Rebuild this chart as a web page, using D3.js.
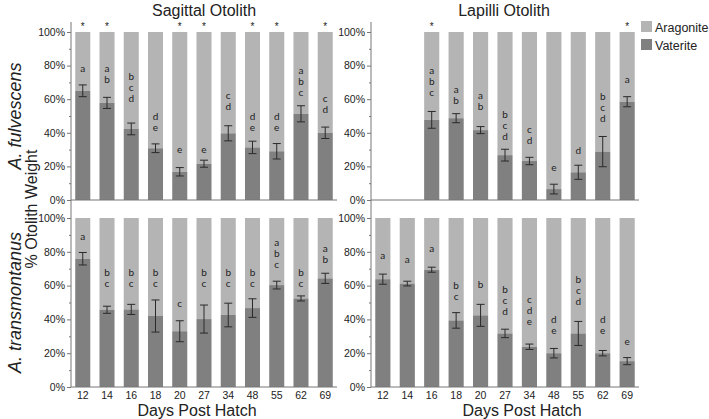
<!DOCTYPE html>
<html>
<head>
<meta charset="utf-8">
<script src="https://cdn.jsdelivr.net/npm/d3@7"></script>
<style>
  html, body { margin: 0; padding: 0; background: #fff; }
  svg { display: block; font-family: 'Liberation Sans', Arial, sans-serif; }
</style>
</head>
<body>
<svg id="chart" width="709" height="419"></svg>
<script>
/* ── Data ── */
const days = ['12', '14', '16', '18', '20', '27', '34', '48', '55', '62', '69'];
const yTicks = [0, 20, 40, 60, 80, 100];

// Sagittal, A. fulvescens — % vaterite
const sagFulv       = [65.0, 57.8, 42.3, 30.8, 16.8, 21.6, 39.7, 31.3, 29.0, 51.3, 40.0];
const sagFulvErr    = [3.5, 3.3, 3.5, 2.6, 2.5, 2.1, 4.5, 3.7, 4.6, 4.8, 3.4];
const sagFulvGrp    = ['a', 'ab', 'bcd', 'de', 'e', 'e', 'cd', 'de', 'de', 'abc', 'cd'];
const sagFulvGrpAt  = [78.5, 78.4, 73.6, 50, 30, 30, 62, 50, 50, 76.8, 60.3];
const sagFulvStar   = [1, 1, 0, 0, 1, 1, 0, 1, 1, 0, 1];

// Lapilli, A. fulvescens
const lapFulv       = [null, null, 47.7, 48.7, 41.6, 26.7, 23.2, 6.5, 16.5, 28.8, 58.5];
const lapFulvErr    = [0, 0, 5.0, 2.7, 2.1, 3.5, 2.2, 2.9, 4.2, 9.0, 3.0];
const lapFulvGrp    = ['', '', 'abc', 'ab', 'ab', 'bcd', 'cd', 'e', 'd', 'bcd', 'a'];
const lapFulvGrpAt  = [0, 0, 76.8, 65.9, 62, 50.6, 41.7, 19.2, 29.3, 61.5, 72];
const lapFulvStar   = [0, 0, 1, 0, 0, 0, 0, 0, 0, 0, 1];

// Sagittal, A. transmontanus
const sagTrans      = [75.9, 45.7, 45.9, 42.0, 33.0, 40.2, 42.6, 46.7, 60.3, 52.4, 64.3];
const sagTransErr   = [3.7, 2.1, 3.0, 9.5, 6.2, 8.3, 7.0, 5.5, 2.3, 1.5, 3.0];
const sagTransGrp   = ['a', 'bc', 'bc', 'bc', 'c', 'bc', 'bc', 'bc', 'abc', 'bc', 'ab'];
const sagTransGrpAt = [89, 67.7, 67.7, 67.7, 49.5, 67.7, 67.7, 67.7, 85.7, 67.7, 82];
const sagTransStar  = [0, 0, 0, 0, 0, 0, 0, 0, 0, 0, 0];

// Lapilli, A. transmontanus
const lapTrans      = [63.8, 61.2, 69.4, 39.4, 42.4, 31.7, 23.8, 20.0, 31.7, 20.0, 15.3];
const lapTransErr   = [3.0, 1.4, 1.5, 4.6, 6.5, 2.5, 1.6, 2.8, 7.1, 1.6, 2.1];
const lapTransGrp   = ['a', 'a', 'a', 'bc', 'b', 'bcd', 'cde', 'de', 'bcd', 'de', 'e'];
const lapTransGrpAt = [77.8, 75.6, 82, 60.2, 60.6, 57.4, 51.9, 40.2, 63.6, 40.2, 26.9];
const lapTransStar  = [0, 0, 0, 0, 0, 0, 0, 0, 0, 0, 0];

const legendItems = ['Aragonite', 'Vaterite'];

/* ── Styles ── */
const CLR_ARAG = '#b4b4b4';
const CLR_VAT  = '#808080';
const CLR_AXIS = '#777';
const CLR_TEXT = '#222';

const svg = d3.select('#chart');

/* ── Layout ── */
const cols = [{ x0: 71, x1: 337 }, { x0: 371, x1: 639 }];
const rows = [{ top: 32, base: 200, axTop: 22 }, { top: 218, base: 387, axTop: 200 }];

const panels = [
  { c: 0, r: 0, v: sagFulv,  e: sagFulvErr,  g: sagFulvGrp,  ga: sagFulvGrpAt,  s: sagFulvStar },
  { c: 1, r: 0, v: lapFulv,  e: lapFulvErr,  g: lapFulvGrp,  ga: lapFulvGrpAt,  s: lapFulvStar },
  { c: 0, r: 1, v: sagTrans, e: sagTransErr, g: sagTransGrp, ga: sagTransGrpAt, s: sagTransStar },
  { c: 1, r: 1, v: lapTrans, e: lapTransErr, g: lapTransGrp, ga: lapTransGrpAt, s: lapTransStar },
];

panels.forEach(p => {
  const col = cols[p.c], row = rows[p.r];
  const x = d3.scaleBand().domain(days).range([col.x0, col.x1])
    .paddingInner(0.38).paddingOuter(0.175);
  const y = d3.scaleLinear().domain([0, 100]).range([row.base, row.top]);
  const g = svg.append('g');

  const rowsData = days.map((d, i) => ({
    d, v: p.v[i], e: p.e[i], grp: p.g[i], at: p.ga[i], star: p.s[i],
  }));
  const withData = rowsData.filter(r => r.v != null);

  /* aragonite (remainder) */
  g.selectAll('rect.arag').data(withData).join('rect')
    .attr('x', r => x(r.d)).attr('width', x.bandwidth())
    .attr('y', y(100)).attr('height', r => y(r.v) - y(100))
    .attr('fill', CLR_ARAG);

  /* vaterite */
  g.selectAll('rect.vat').data(withData).join('rect')
    .attr('x', r => x(r.d)).attr('width', x.bandwidth())
    .attr('y', r => y(r.v)).attr('height', r => y(0) - y(r.v))
    .attr('fill', CLR_VAT);

  /* error bars */
  const eb = g.selectAll('g.err').data(withData).join('g')
    .attr('stroke', '#2a2a2a').attr('stroke-width', 1);
  const cx = r => x(r.d) + x.bandwidth() / 2;
  eb.append('line')
    .attr('x1', cx).attr('x2', cx)
    .attr('y1', r => y(r.v + r.e)).attr('y2', r => y(r.v - r.e));
  eb.append('line')
    .attr('x1', r => cx(r) - 4).attr('x2', r => cx(r) + 4)
    .attr('y1', r => y(r.v + r.e)).attr('y2', r => y(r.v + r.e));
  eb.append('line')
    .attr('x1', r => cx(r) - 4).attr('x2', r => cx(r) + 4)
    .attr('y1', r => y(r.v - r.e)).attr('y2', r => y(r.v - r.e));

  /* significance letters */
  withData.forEach(r => {
    r.grp.split('').forEach((ch, k) => {
      g.append('text')
        .attr('x', cx(r)).attr('y', y(r.at) + k * 11)
        .attr('dy', '0.35em')
        .attr('text-anchor', 'middle')
        .attr('font-family', 'Lato, "Open Sans", sans-serif')
        .attr('font-size', '10px')
        .attr('fill', CLR_TEXT)
        .text(ch);
    });
  });

  /* stars */
  g.selectAll('text.star').data(rowsData.filter(r => r.star)).join('text')
    .attr('x', cx).attr('y', row.axTop + 8)
    .attr('text-anchor', 'middle')
    .attr('font-size', '10px')
    .attr('fill', CLR_TEXT)
    .text('*');

  /* baseline */
  g.append('line')
    .attr('x1', col.x0).attr('x2', col.x1)
    .attr('y1', y(0)).attr('y2', y(0))
    .attr('stroke', CLR_AXIS).attr('stroke-width', 1);

  /* y axis: minor ticks then major */
  const minor = g.append('g').attr('transform', `translate(${col.x0},0)`)
    .call(d3.axisLeft(y).tickValues(d3.range(10, 100, 20)).tickSize(2).tickFormat(''));
  minor.select('.domain').remove();
  minor.selectAll('line').attr('stroke', CLR_AXIS);

  const major = g.append('g').attr('transform', `translate(${col.x0},0)`)
    .call(d3.axisLeft(y).tickValues(yTicks).tickSize(4).tickPadding(2).tickFormat(d => d + '%'));
  major.select('.domain').remove();
  major.selectAll('line').attr('stroke', CLR_AXIS);
  major.selectAll('text')
    .attr('font-family', "'Liberation Sans', Arial, sans-serif")
    .attr('font-size', '10.5px').attr('fill', CLR_TEXT);

  /* x tick labels on bottom row */
  if (p.r === 1) {
    const xa = g.append('g').attr('transform', `translate(0,${row.base})`)
      .call(d3.axisBottom(x).tickSize(0).tickPadding(5));
    xa.select('.domain').remove();
    xa.selectAll('text')
      .attr('font-family', "'Liberation Sans', Arial, sans-serif")
      .attr('font-size', '10.5px').attr('fill', CLR_TEXT);
  }
});

/* vertical axis lines spanning both rows */
cols.forEach(col => {
  svg.append('line')
    .attr('x1', col.x0).attr('x2', col.x0)
    .attr('y1', rows[0].axTop).attr('y2', rows[1].base)
    .attr('stroke', CLR_AXIS).attr('stroke-width', 1);
});

/* ── Titles ── */
const titleFont = "'Liberation Sans', Arial, sans-serif";
[['Sagittal Otolith', 204], ['Lapilli Otolith', 504]].forEach(([t, xx]) => {
  svg.append('text').attr('x', xx).attr('y', 16)
    .attr('text-anchor', 'middle').attr('font-family', titleFont)
    .attr('font-size', '16px').attr('fill', CLR_TEXT).text(t);
});
[['Days Post Hatch', 197], ['Days Post Hatch', 522]].forEach(([t, xx]) => {
  svg.append('text').attr('x', xx).attr('y', 416)
    .attr('text-anchor', 'middle').attr('font-family', titleFont)
    .attr('font-size', '16px').attr('fill', CLR_TEXT).text(t);
});

/* row labels */
[['A. fulvescens', (rows[0].top + rows[0].base) / 2], ['A. transmontanus', (rows[1].top + rows[1].base) / 2]]
  .forEach(([t, yy]) => {
    svg.append('text')
      .attr('transform', `translate(21,${yy}) rotate(-90)`)
      .attr('text-anchor', 'middle').attr('font-family', titleFont)
      .attr('font-style', 'italic')
      .attr('font-size', '18px').attr('fill', CLR_TEXT).text(t);
  });
svg.append('text')
  .attr('transform', `translate(37,209) rotate(-90)`)
  .attr('text-anchor', 'middle').attr('font-family', titleFont)
  .attr('font-size', '16px').attr('fill', CLR_TEXT).text('% Otolith Weight');

/* ── Legend ── */
const lg = svg.append('g').attr('transform', 'translate(641,21)');
lg.selectAll('rect').data(legendItems).join('rect')
  .attr('x', 0).attr('y', (_, i) => i * 18)
  .attr('width', 11).attr('height', 11)
  .attr('fill', (_, i) => i === 0 ? CLR_ARAG : CLR_VAT);
lg.selectAll('text').data(legendItems).join('text')
  .attr('x', 14).attr('y', (_, i) => i * 18 + 10.5)
  .attr('font-family', titleFont).attr('font-size', '12.5px')
  .attr('fill', CLR_TEXT).text(d => d);
</script>
</body>
</html>
